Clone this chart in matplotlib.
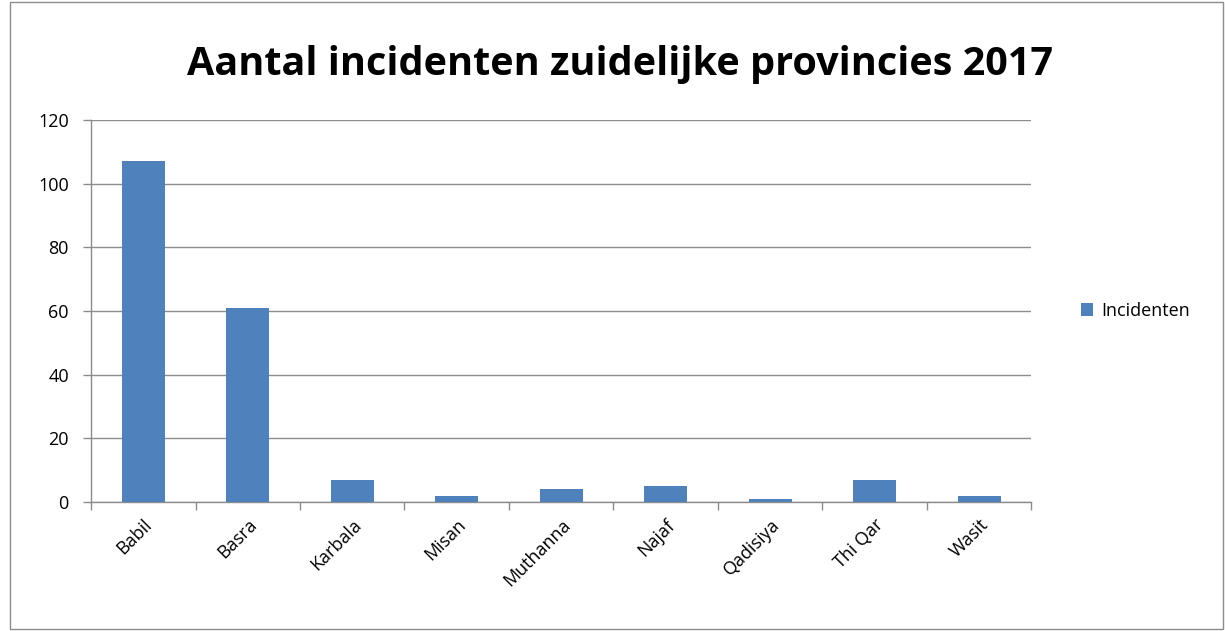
import numpy as np
import matplotlib.pyplot as plt
from matplotlib.patches import Rectangle

# DATA
provinces = ["Babil", "Basra", "Karbala", "Misan", "Muthanna", "Najaf", "Qadisiya", "Thi Qar", "Wasit"]
incidents = [107, 61, 7, 2, 4, 5, 1, 7, 2]

plt.rcParams['font.family'] = ['Open Sans', 'DejaVu Sans']

fig = plt.figure(figsize=(12.25, 6.31), dpi=100)
ax = fig.add_axes([0.0743, 0.2045, 0.842 - 0.0743, 0.810 - 0.2045])

x = np.arange(len(provinces))
ax.bar(x, incidents, width=0.41, color='#4F81BD', label='Incidenten', zorder=3)

ax.set_xlim(-0.5, len(provinces) - 0.5)
ax.set_ylim(0, 120)
ax.set_yticks(range(0, 121, 20))
ax.yaxis.grid(True, color='#8c8c8c', linewidth=1, zorder=0)

ax.set_xticks(x)
ax.set_xticklabels(provinces, rotation=45, ha='right', rotation_mode='anchor', fontsize=13)
ax.set_xticks(np.arange(-0.5, len(provinces)), minor=True)
ax.tick_params(axis='x', which='major', length=0, pad=10)
ax.tick_params(axis='x', which='minor', length=6, color='#8c8c8c', width=1)
ax.tick_params(axis='y', length=6, color='#8c8c8c', width=1, labelsize=13, pad=10)

for s in ['top', 'right']:
    ax.spines[s].set_visible(False)
for s in ['left', 'bottom']:
    ax.spines[s].set_color('#8c8c8c')
    ax.spines[s].set_linewidth(1)

fig.text(0.506, 0.898, "Aantal incidenten zuidelijke provincies 2017",
         ha='center', va='center', fontsize=28.5, fontweight='bold')

ax.legend(loc='center left', bbox_to_anchor=(1.035, 0.5), frameon=False,
          fontsize=13, handlelength=0.7, handleheight=0.7, handletextpad=0.45)

# chart border
fig.patches.append(Rectangle((0.008, 0.003), 0.990, 0.994, transform=fig.transFigure,
                             fill=False, edgecolor='#8c8c8c', linewidth=1))

fig.savefig('out.png', dpi=100)
